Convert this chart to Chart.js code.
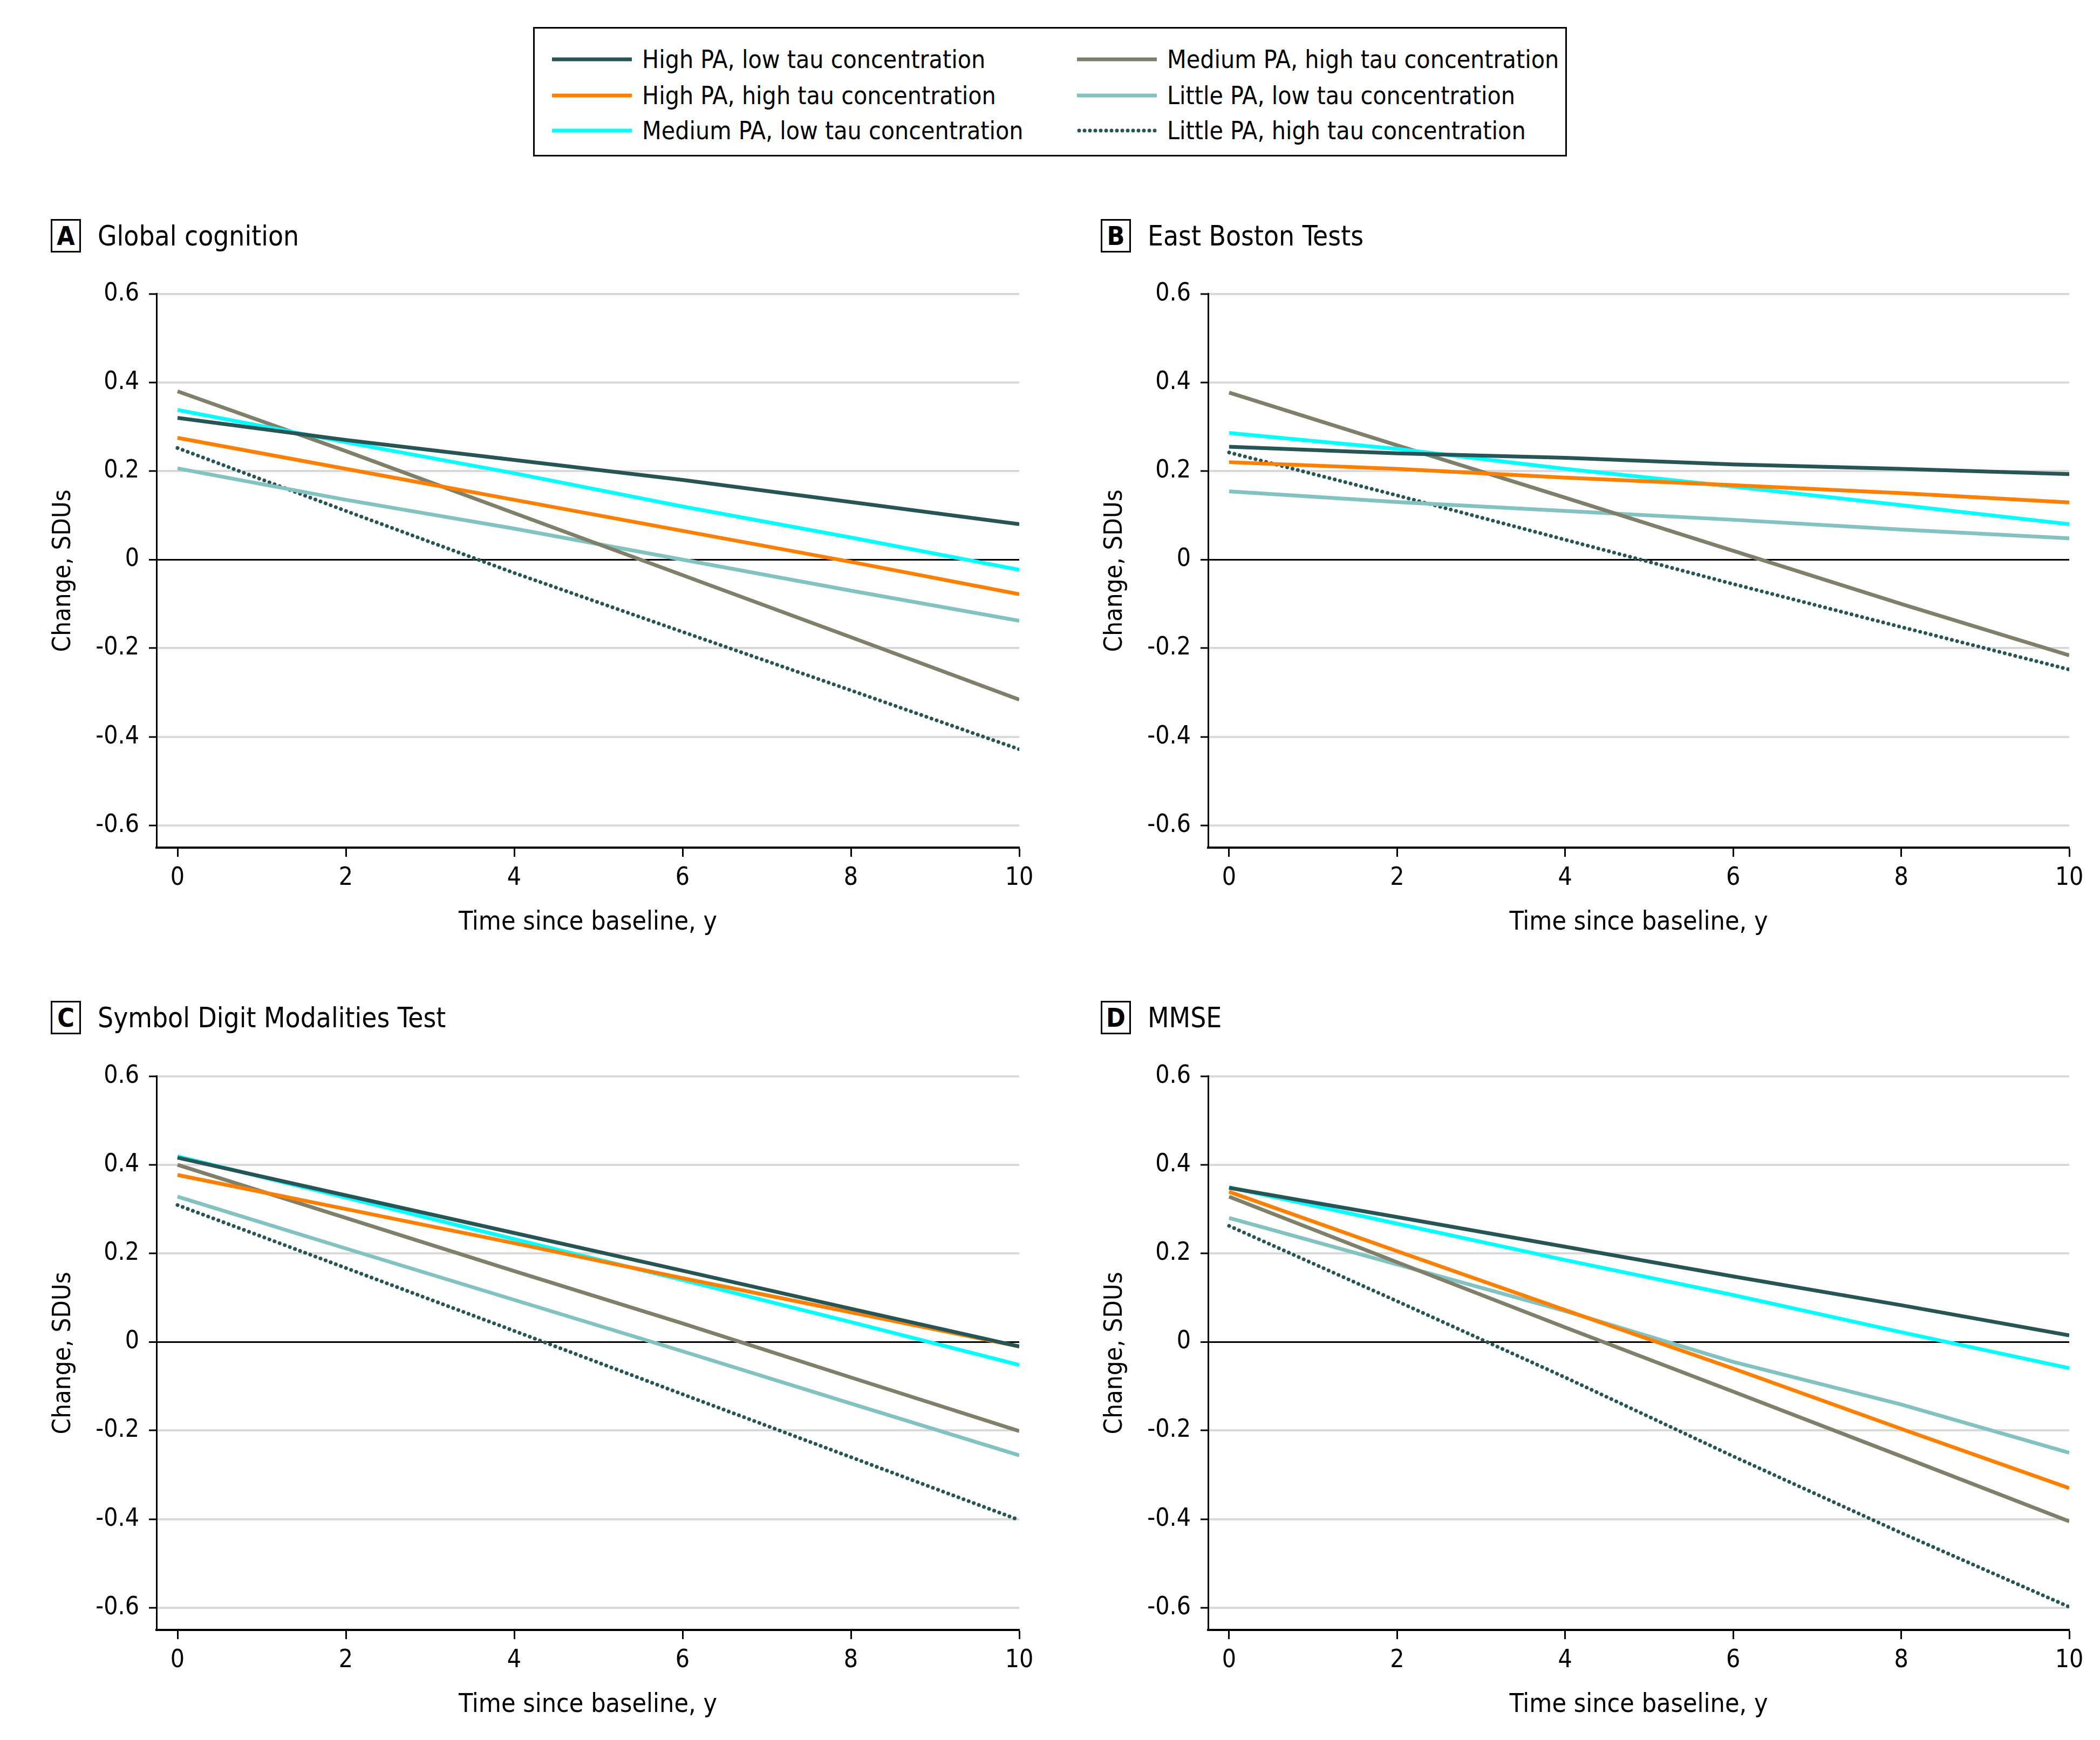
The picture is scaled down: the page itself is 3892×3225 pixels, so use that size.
<!DOCTYPE html>
<html>
<head>
<meta charset="utf-8">
<script src="https://cdn.jsdelivr.net/npm/chart.js@4.4.1/dist/chart.umd.min.js"></script>
<style>
  body { margin: 0; width: 3892px; height: 3225px; background: #fff; position: relative; overflow: hidden;
         font-family: "Liberation Sans Narrow", "DejaVu Sans Condensed", "Arial Narrow", sans-serif; color: #000; }
  .legend { position: absolute; left: 988px; top: 50px; width: 1916px; height: 240px; border: 3px solid #000; box-sizing: border-box; }
  .item { position: absolute; height: 60px; display: flex; align-items: center; font-size: 46px; white-space: nowrap; }
  .item svg { margin-right: 19px; }
  .ptitle { position: absolute; display: flex; align-items: center; font-size: 51px; white-space: nowrap; }
  .ptitle .box { width: 56px; height: 62px; border: 3px solid #000; display: flex; align-items: center; justify-content: center;
                 font-weight: bold; font-size: 48px; margin-right: 31px; box-sizing: border-box; }
  canvas { position: absolute; }
</style>
</head>
<body>
<div class="legend" id="legend"></div>
<div class="ptitle" style="left:94px; top:406px;"><span class="box">A</span>Global cognition</div>
<div class="ptitle" style="left:2040px; top:406px;"><span class="box">B</span>East Boston Tests</div>
<div class="ptitle" style="left:94px; top:1855px;"><span class="box">C</span>Symbol Digit Modalities Test</div>
<div class="ptitle" style="left:2040px; top:1855px;"><span class="box">D</span>MMSE</div>

<canvas id="chartA" width="1843" height="1244" style="left:86px; top:499px;"></canvas>
<canvas id="chartB" width="1840" height="1244" style="left:2035px; top:499px;"></canvas>
<canvas id="chartC" width="1843" height="1244" style="left:86px; top:1949px;"></canvas>
<canvas id="chartD" width="1840" height="1244" style="left:2035px; top:1949px;"></canvas>

<script>
// ======== Data ========
const years = [0, 2, 4, 6, 8, 10];
const yTicks = [-0.6, -0.4, -0.2, 0, 0.2, 0.4, 0.6];
const xTicks = [0, 2, 4, 6, 8, 10];

const seriesNames = [
    "High PA, low tau concentration",
    "High PA, high tau concentration",
    "Medium PA, low tau concentration",
    "Medium PA, high tau concentration",
    "Little PA, low tau concentration",
    "Little PA, high tau concentration"
];
const seriesColors = ["#275454", "#ff8000", "#00ffff", "#80806a", "#82c3c1", "#275454"];
const seriesDotted = [false, false, false, false, false, true];

// A: Global cognition
const aHighLow    = [0.32, 0.27, 0.225, 0.18, 0.13, 0.08];
const aHighHigh   = [0.275, 0.205, 0.135, 0.065, -0.005, -0.078];
const aMedLow     = [0.338, 0.265, 0.195, 0.12, 0.05, -0.023];
const aMedHigh    = [0.38, 0.245, 0.105, -0.035, -0.175, -0.316];
const aLittleLow  = [0.206, 0.135, 0.07, 0.0, -0.07, -0.138];
const aLittleHigh = [0.252, 0.11, -0.03, -0.163, -0.295, -0.428];

// B: East Boston Tests
const bHighLow    = [0.255, 0.24, 0.23, 0.215, 0.205, 0.193];
const bHighHigh   = [0.22, 0.205, 0.185, 0.168, 0.15, 0.129];
const bMedLow     = [0.286, 0.25, 0.205, 0.165, 0.123, 0.08];
const bMedHigh    = [0.377, 0.258, 0.14, 0.02, -0.1, -0.216];
const bLittleLow  = [0.154, 0.13, 0.11, 0.09, 0.068, 0.048];
const bLittleHigh = [0.242, 0.145, 0.045, -0.055, -0.152, -0.248];

// C: Symbol Digit Modalities Test
const cHighLow    = [0.416, 0.331, 0.246, 0.161, 0.075, -0.01];
const cHighHigh   = [0.377, 0.3, 0.223, 0.144, 0.067, -0.01];
const cMedLow     = [0.419, 0.326, 0.232, 0.14, 0.045, -0.052];
const cMedHigh    = [0.40, 0.28, 0.16, 0.042, -0.08, -0.201];
const cLittleLow  = [0.328, 0.211, 0.095, -0.021, -0.139, -0.256];
const cLittleHigh = [0.309, 0.167, 0.025, -0.118, -0.26, -0.402];

// D: MMSE
const dHighLow    = [0.348, 0.282, 0.215, 0.148, 0.083, 0.015];
const dHighHigh   = [0.339, 0.205, 0.072, -0.06, -0.196, -0.33];
const dMedLow     = [0.349, 0.267, 0.185, 0.106, 0.022, -0.059];
const dMedHigh    = [0.328, 0.18, 0.033, -0.112, -0.258, -0.405];
const dLittleLow  = [0.28, 0.175, 0.07, -0.045, -0.141, -0.25];
const dLittleHigh = [0.262, 0.092, -0.08, -0.258, -0.431, -0.598];

const FONT = '"Liberation Sans Narrow", "DejaVu Sans Condensed", "Arial Narrow", sans-serif';

// ======== HTML legend (two columns, like the figure) ========
function buildLegend() {
    const legend = document.getElementById("legend");
    const rowTops = [27, 94, 159];
    const colLefts = [32, 1005];
    seriesNames.forEach((name, i) => {
        const col = Math.floor(i / 3), row = i % 3;
        const item = document.createElement("div");
        item.className = "item";
        item.style.left = colLefts[col] + "px";
        item.style.top = rowTops[row] + "px";
        const dash = seriesDotted[i] ? 'stroke-dasharray="0 10" stroke-linecap="round"' : "";
        item.innerHTML = `<svg width="148" height="12"><line x1="${seriesDotted[i] ? 4 : 0}" y1="6" x2="148" y2="6" stroke="${seriesColors[i]}" stroke-width="7" ${dash}/></svg>${name}`;
        legend.appendChild(item);
    });
}

// ======== One panel ========
function makeChart(id, panel) {
    const datasets = panel.map((vals, i) => ({
        label: seriesNames[i],
        data: years.map((x, j) => ({ x: x, y: vals[j] })),
        borderColor: seriesColors[i],
        borderWidth: 7,
        borderDash: seriesDotted[i] ? [0.1, 10] : [],
        borderCapStyle: seriesDotted[i] ? "round" : "butt",
        pointRadius: 0,
        tension: 0,
        fill: false
    }));

    return new Chart(document.getElementById(id), {
        type: "line",
        data: { datasets: datasets },
        options: {
            responsive: false,
            animation: false,
            layout: { padding: { top: 30, right: 40, left: 0, bottom: 0 } },
            plugins: { legend: { display: false }, tooltip: { enabled: false } },
            scales: {
                x: {
                    type: "linear",
                    min: -0.25,
                    max: 10,
                    afterBuildTicks: s => { s.ticks = xTicks.map(v => ({ value: v })); },
                    afterFit: s => { s.height = 172; },
                    ticks: { color: "#000", padding: 12, maxRotation: 0, font: { family: FONT, size: 46 },
                             callback: v => String(v) },
                    grid: { drawOnChartArea: false, drawTicks: true, tickLength: 17, tickColor: "#000", tickWidth: 3 },
                    border: { display: true, color: "#000", width: 4 },
                    title: { display: true, text: "Time since baseline, y", color: "#000",
                             font: { family: FONT, size: 48 }, padding: { top: 4, bottom: 4 } }
                },
                y: {
                    min: -0.65,
                    max: 0.6,
                    afterBuildTicks: s => { s.ticks = yTicks.map(v => ({ value: v })); },
                    afterFit: s => { s.width = 204; },
                    ticks: { color: "#000", padding: 18, font: { family: FONT, size: 46 },
                             callback: v => (Math.abs(v) < 1e-9 ? "0" : v.toFixed(1)) },
                    grid: {
                        color: c => (c.tick && Math.abs(c.tick.value) < 1e-9 ? "#000" : "#d9d9d9"),
                        lineWidth: c => (c.tick && Math.abs(c.tick.value) < 1e-9 ? 3 : 4),
                        tickColor: "#000", tickLength: 14, tickWidth: 3
                    },
                    border: { display: true, color: "#000", width: 3 },
                    title: { display: true, text: "Change, SDUs", color: "#000",
                             font: { family: FONT, size: 47 }, padding: { top: 4, bottom: 4 } }
                }
            }
        }
    });
}

buildLegend();
makeChart("chartA", [aHighLow, aHighHigh, aMedLow, aMedHigh, aLittleLow, aLittleHigh]);
makeChart("chartB", [bHighLow, bHighHigh, bMedLow, bMedHigh, bLittleLow, bLittleHigh]);
makeChart("chartC", [cHighLow, cHighHigh, cMedLow, cMedHigh, cLittleLow, cLittleHigh]);
makeChart("chartD", [dHighLow, dHighHigh, dMedLow, dMedHigh, dLittleLow, dLittleHigh]);
</script>
</body>
</html>
